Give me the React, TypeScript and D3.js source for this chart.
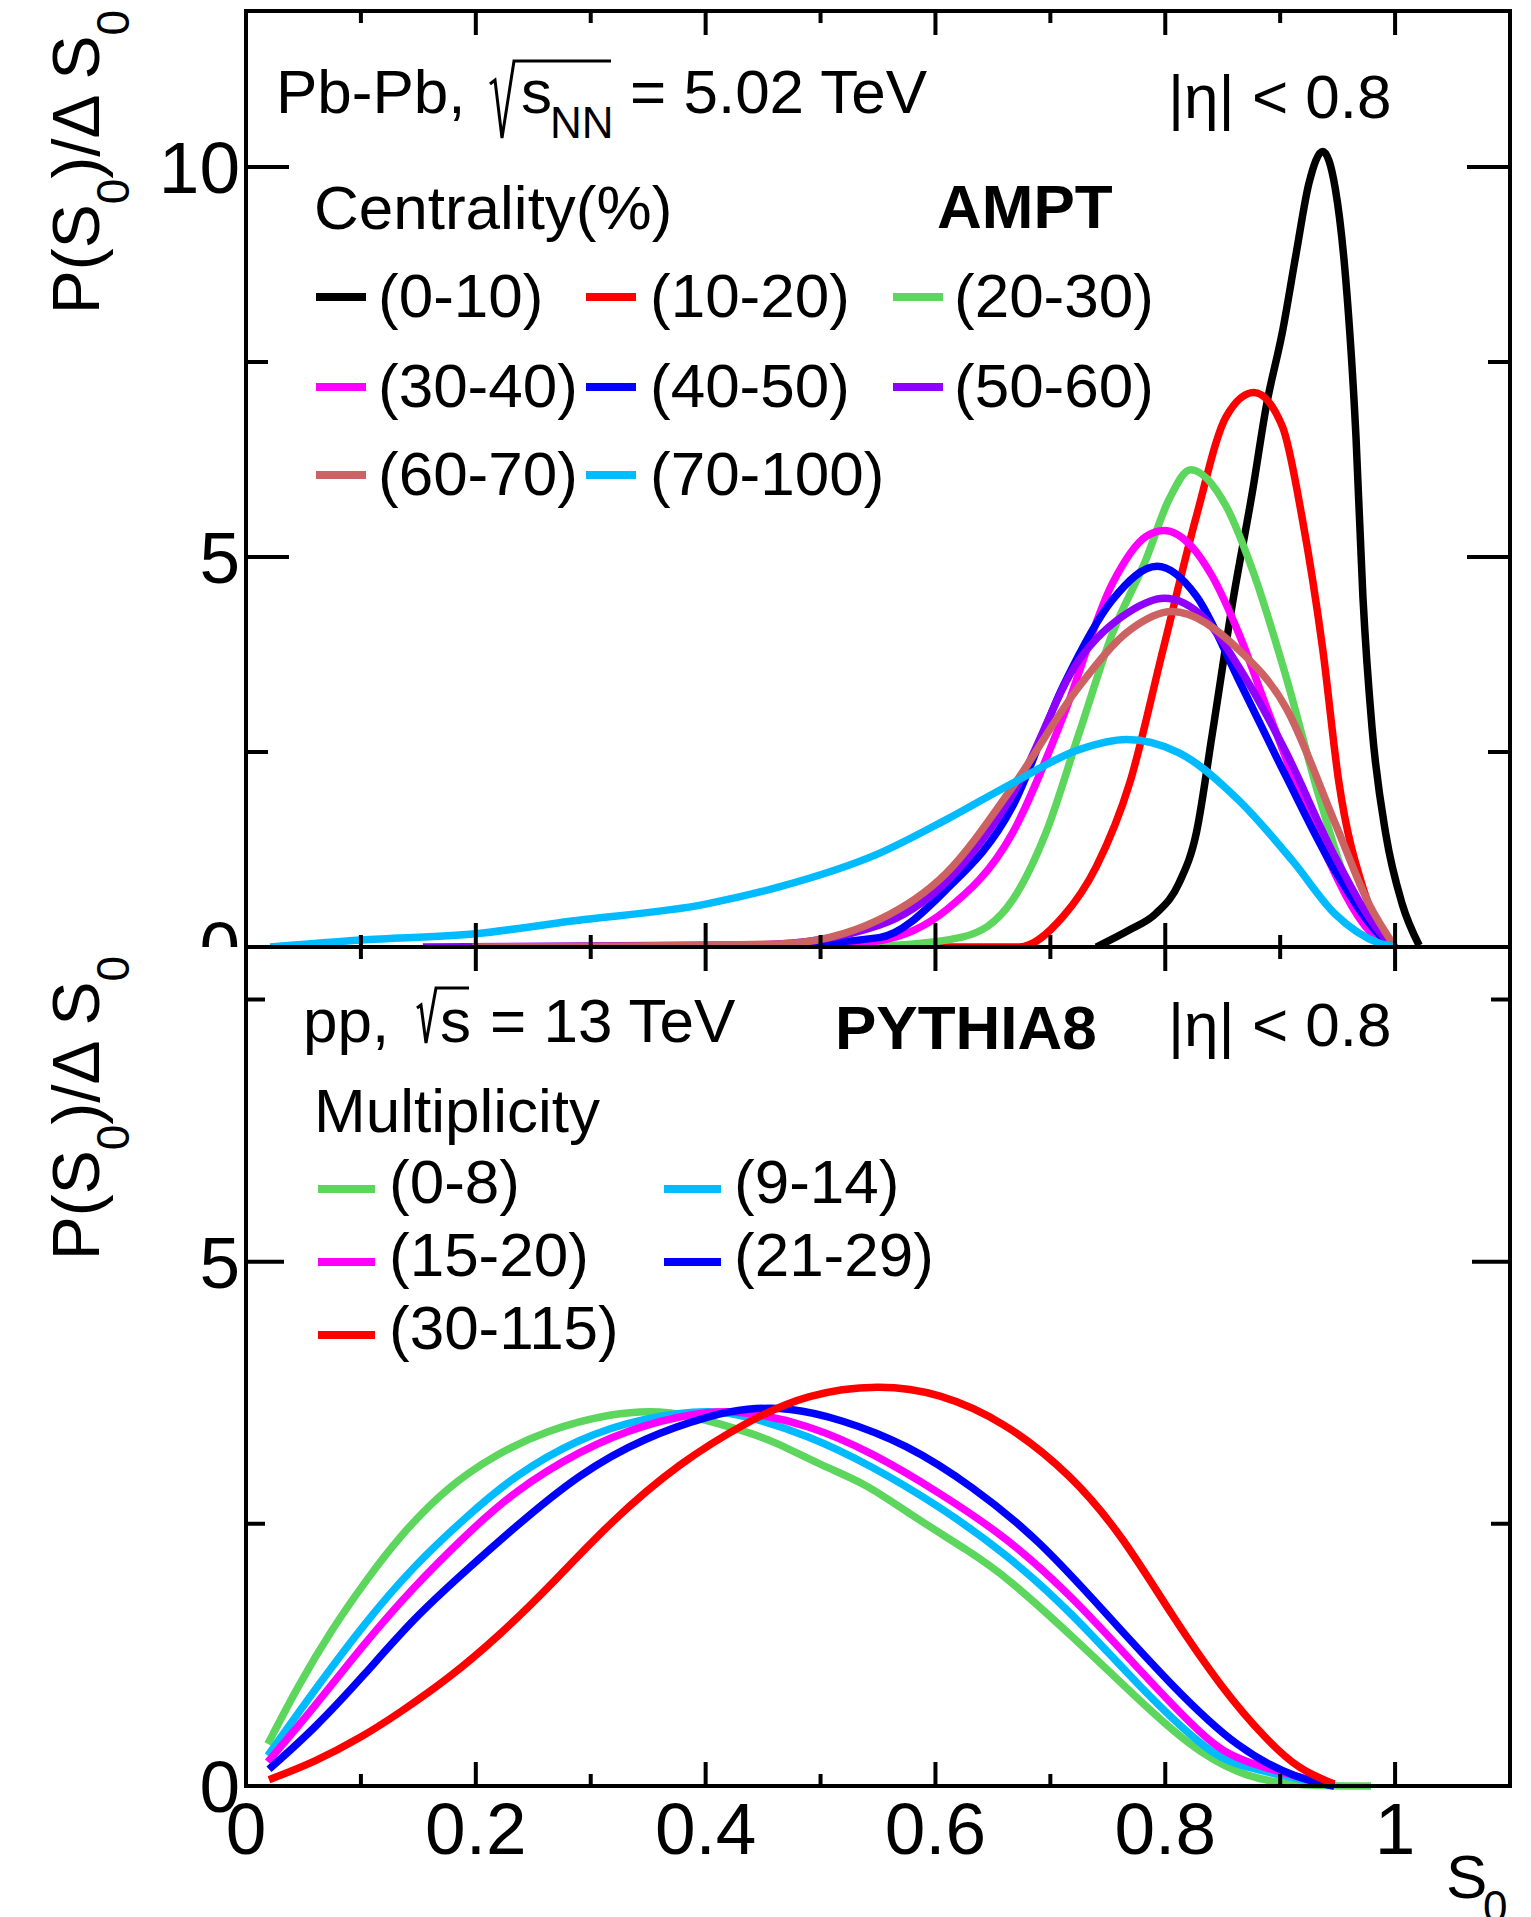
import React from "react";
import * as d3 from "d3";

type Pt = [number, number];

// ---------- DATA ----------
// Top panel: AMPT Pb-Pb centrality classes, [S0, P(S0)/ΔS0]
const amptC0_10: Pt[] = [[0.74,0],[0.769,0.22],[0.792,0.43],[0.812,0.82],[0.827,1.46],[0.841,2.74],[0.859,4.45],[0.876,5.85],[0.888,6.94],[0.902,7.89],[0.914,8.9],[0.925,9.79],[0.937,10.2],[0.948,9.72],[0.957,8.57],[0.966,6.53],[0.972,4.49],[0.98,2.8],[0.992,1.44],[1.006,0.56],[1.021,0.02]];
const amptC10_20: Pt[] = [[0.6,0],[0.673,0],[0.711,0.39],[0.74,1.03],[0.769,2.1],[0.798,3.81],[0.827,5.52],[0.853,6.8],[0.877,7.11],[0.902,6.67],[0.919,5.51],[0.937,3.82],[0.951,2.12],[0.972,0.76],[0.992,0.12],[1.0,0]];
const amptC20_30: Pt[] = [[0.5,0],[0.56,0.02],[0.624,0.13],[0.667,0.6],[0.696,1.46],[0.725,2.74],[0.754,4.02],[0.783,4.96],[0.803,5.73],[0.822,6.12],[0.853,5.65],[0.876,4.83],[0.905,3.47],[0.934,1.92],[0.963,0.63],[0.992,0.08],[1.0,0]];
const amptC30_40: Pt[] = [[0.4,0],[0.5,0.02],[0.551,0.08],[0.609,0.47],[0.667,1.46],[0.711,2.95],[0.754,4.66],[0.783,5.26],[0.799,5.34],[0.822,5.15],[0.841,4.75],[0.864,4.02],[0.89,3.0],[0.934,1.37],[0.978,0.2],[1.0,0]];
const amptC40_50: Pt[] = [[0.3,0],[0.45,0.02],[0.551,0.12],[0.609,0.73],[0.667,1.8],[0.711,3.34],[0.754,4.45],[0.793,4.88],[0.827,4.5],[0.864,3.42],[0.905,2.19],[0.948,0.97],[0.992,0.08],[1.0,0]];
const amptC50_60: Pt[] = [[0.154,0],[0.45,0.03],[0.551,0.28],[0.609,0.83],[0.667,1.95],[0.725,3.68],[0.769,4.3],[0.799,4.47],[0.835,4.2],[0.864,3.59],[0.905,2.5],[0.948,1.15],[0.992,0.1],[1.0,0]];
const amptC60_70: Pt[] = [[0.197,0],[0.464,0.04],[0.551,0.35],[0.609,0.94],[0.667,2.05],[0.725,3.34],[0.769,4.06],[0.806,4.3],[0.864,3.81],[0.905,3.07],[0.948,1.58],[0.977,0.56],[1.0,0]];
const amptC70_100: Pt[] = [[0.021,0],[0.1,0.09],[0.2,0.17],[0.282,0.33],[0.4,0.55],[0.464,0.77],[0.551,1.2],[0.609,1.63],[0.667,2.1],[0.725,2.53],[0.766,2.66],[0.812,2.49],[0.864,1.88],[0.911,1.1],[0.948,0.42],[0.986,0.05],[1.0,0]];

// Bottom panel: PYTHIA8 pp multiplicity classes
const pyM0_8: Pt[] = [[0.019,0.4],[0.045,0.95],[0.075,1.5],[0.105,1.97],[0.135,2.4],[0.175,2.85],[0.217,3.16],[0.261,3.39],[0.319,3.56],[0.362,3.58],[0.391,3.52],[0.435,3.38],[0.459,3.29],[0.502,3.05],[0.54,2.88],[0.575,2.61],[0.632,2.22],[0.661,2.0],[0.719,1.43],[0.777,0.82],[0.821,0.38],[0.864,0.11],[0.9,0.02],[0.947,0],[0.979,0]];
const pyM9_14: Pt[] = [[0.019,0.29],[0.06,0.92],[0.103,1.55],[0.146,2.1],[0.19,2.55],[0.232,2.95],[0.29,3.32],[0.348,3.52],[0.406,3.59],[0.435,3.53],[0.488,3.35],[0.545,3.05],[0.603,2.67],[0.661,2.22],[0.719,1.65],[0.777,0.95],[0.835,0.34],[0.864,0.18],[0.947,0]];
const pyM15_20: Pt[] = [[0.019,0.23],[0.06,0.76],[0.103,1.36],[0.146,1.9],[0.19,2.38],[0.232,2.8],[0.29,3.2],[0.348,3.46],[0.406,3.58],[0.435,3.57],[0.488,3.45],[0.545,3.18],[0.603,2.8],[0.661,2.38],[0.719,1.81],[0.777,1.11],[0.835,0.44],[0.864,0.23],[0.947,0]];
const pyM21_29: Pt[] = [[0.02,0.16],[0.06,0.55],[0.103,1.06],[0.146,1.6],[0.19,2.04],[0.232,2.45],[0.29,2.98],[0.348,3.33],[0.406,3.54],[0.435,3.6],[0.473,3.61],[0.517,3.5],[0.575,3.26],[0.632,2.86],[0.69,2.35],[0.748,1.65],[0.806,0.95],[0.864,0.34],[0.917,0.06],[0.947,0]];
const pyM30_115: Pt[] = [[0.02,0.06],[0.06,0.23],[0.1,0.46],[0.134,0.7],[0.177,1.03],[0.221,1.44],[0.264,1.9],[0.319,2.54],[0.377,3.08],[0.435,3.47],[0.488,3.74],[0.551,3.83],[0.603,3.75],[0.661,3.47],[0.719,2.96],[0.763,2.38],[0.806,1.62],[0.85,0.92],[0.888,0.44],[0.917,0.15],[0.947,0.02]];

const amptLabels = ["(0-10)", "(10-20)", "(20-30)", "(30-40)", "(40-50)", "(50-60)", "(60-70)", "(70-100)"];
const amptColors = ["#000000", "#ff0000", "#5cd65c", "#ff00ff", "#0000ff", "#9000ff", "#cc6262", "#00bbff"];
const amptSeries = [amptC0_10, amptC10_20, amptC20_30, amptC30_40, amptC40_50, amptC50_60, amptC60_70, amptC70_100];

const pyLabels = ["(0-8)", "(9-14)", "(15-20)", "(21-29)", "(30-115)"];
const pyColors = ["#5cd65c", "#00bbff", "#ff00ff", "#0000ff", "#ff0000"];
const pySeries = [pyM0_8, pyM9_14, pyM15_20, pyM21_29, pyM30_115];

const xMajor = [0, 0.2, 0.4, 0.6, 0.8, 1];
const xMajorLabels = ["0", "0.2", "0.4", "0.6", "0.8", "1"];
const xMinor = [0.1, 0.3, 0.5, 0.7, 0.9];
const topYMajor = [0, 5, 10];
const topYMajorLabels = ["0", "5", "10"];
const botYMajor = [0, 5];
const botYMajorLabels = ["0", "5"];
const yMinor = [2.5, 7.5];

// ---------- LAYOUT ----------
const W = 1531, H = 1917;
const FL = 246, FR = 1510;
const x = d3.scaleLinear().domain([0, 1.1]).range([FL, FR]);
const yT = d3.scaleLinear().domain([0, 12]).range([947, 11]);
const yB = d3.scaleLinear().domain([0, 8]).range([1786, 947]);

const FONT = "'Liberation Sans', Arial, Helvetica, sans-serif";
const TXT = 62;
const TICKF = 73;

function linePath(data: Pt[], y: d3.ScaleLinear<number, number>, smooth: boolean) {
  const curve = smooth ? d3.curveBasis : d3.curveMonotoneX;
  return d3.line<Pt>().x(d => x(d[0])).y(d => y(d[1])).curve(curve)(data) || "";
}

function Frame({ y, yMajLen, yMinLen, yMaj }: { y: d3.ScaleLinear<number, number>; yMajLen: number; yMinLen: number; yMaj: number[] }) {
  const [y0, y1] = y.range();
  const top = y1, bot = y0;
  const segs: string[] = [];
  xMajor.forEach(v => { segs.push(`M${x(v)},${bot}V${bot - 24}`); segs.push(`M${x(v)},${top}V${top + 24}`); });
  xMinor.forEach(v => { segs.push(`M${x(v)},${bot}V${bot - 12}`); segs.push(`M${x(v)},${top}V${top + 12}`); });
  yMaj.forEach(v => { segs.push(`M${FL},${y(v)}H${FL + yMajLen}`); segs.push(`M${FR},${y(v)}H${FR - yMajLen}`); });
  yMinor.forEach(v => { segs.push(`M${FL},${y(v)}H${FL + yMinLen}`); segs.push(`M${FR},${y(v)}H${FR - yMinLen}`); });
  return (
    <g>
      <path d={segs.join("")} stroke="#000" strokeWidth={4} fill="none" />
      <rect x={FL} y={top} width={FR - FL} height={bot - top} fill="none" stroke="#000" strokeWidth={4} />
    </g>
  );
}

function YTitle({ yEnd }: { yEnd: number }) {
  return (
    <text transform={`translate(99,${yEnd}) rotate(-90)`} textAnchor="end" fontSize={66} fontFamily={FONT}>
      <tspan>P(S</tspan>
      <tspan fontSize={46} dy={30}>0</tspan>
      <tspan dy={-30}>)/Δ S</tspan>
      <tspan fontSize={46} dy={30}>0</tspan>
    </text>
  );
}

export default function App() {
  return (
    <svg width={W} height={H} style={{ position: "absolute", left: 0, top: 0, background: "#fff" }} fontFamily={FONT}>
      <rect x={0} y={0} width={W} height={H} fill="#fff" />
      {/* ================= TOP PAD ================= */}
      <g>
        {topYMajor.map((v, i) => (
          <text key={"tyl" + i} x={240} y={yT(v) + 26} textAnchor="end" fontSize={TICKF}>{topYMajorLabels[i]}</text>
        ))}
        <YTitle yEnd={10} />
        {amptSeries.map((s, i) => (
          <path key={"a" + i} d={linePath(s, yT, false)} fill="none" stroke={amptColors[i]} strokeWidth={7.5} strokeLinejoin="round" />
        ))}
        <Frame y={yT} yMajLen={43} yMinLen={22} yMaj={topYMajor} />
        {/* header */}
        <text x={276} y={113} fontSize={TXT}>Pb-Pb,</text>
        <path d="M490,84 L495,80 L502,138 L514,61 L611,61" fill="none" stroke="#000" strokeWidth={3} />
        <text x={521} y={113} fontSize={TXT}>s</text>
        <text x={550} y={138} fontSize={44}>NN</text>
        <text x={630} y={113} fontSize={TXT}>= 5.02 TeV</text>
        <text x={1168} y={118} fontSize={TXT}>|η| &lt; 0.8</text>
        <text x={314} y={229} fontSize={TXT}>Centrality(%)</text>
        <text x={937} y={228} fontSize={TXT} fontWeight="bold">AMPT</text>
        {amptLabels.map((lab, i) => {
          const col = i % 3, row = Math.floor(i / 3);
          const mx = [316, 586, 893][col];
          const tx = [378, 650, 954][col];
          const my = [297, 387, 475][row];
          return (
            <g key={"al" + i}>
              <line x1={mx} x2={mx + 50} y1={my} y2={my} stroke={amptColors[i]} strokeWidth={8} />
              <text x={tx} y={my + 20} fontSize={TXT}>{lab}</text>
            </g>
          );
        })}
      </g>

      {/* ================= BOTTOM PAD ================= */}
      <rect x={0} y={947} width={W} height={H - 947} fill="#fff" />
      <g>
        {botYMajor.map((v, i) => (
          <text key={"byl" + i} x={240} y={yB(v) + 26} textAnchor="end" fontSize={TICKF}>{botYMajorLabels[i]}</text>
        ))}
        {xMajor.map((v, i) => (
          <text key={"xl" + i} x={x(v)} y={1854} textAnchor="middle" fontSize={TICKF}>{xMajorLabels[i]}</text>
        ))}
        <YTitle yEnd={956} />
        <text x={1446} y={1898} fontSize={TXT}>S</text>
        <text x={1483} y={1922} fontSize={44}>0</text>
        {pySeries.map((s, i) => (
          <path key={"p" + i} d={linePath(s, yB, true)} fill="none" stroke={pyColors[i]} strokeWidth={7.5} strokeLinejoin="round" />
        ))}
        <Frame y={yB} yMajLen={38} yMinLen={19} yMaj={botYMajor} />
        <text x={303} y={1042} fontSize={TXT}>pp,</text>
        <path d="M417,1008 L421,1005 L426,1043 L436,988 L469,988" fill="none" stroke="#000" strokeWidth={3} />
        <text x={440} y={1042} fontSize={TXT}>s</text>
        <text x={490} y={1042} fontSize={TXT}>= 13 TeV</text>
        <text x={835} y={1049} fontSize={TXT} fontWeight="bold">PYTHIA8</text>
        <text x={1168} y={1046} fontSize={TXT}>|η| &lt; 0.8</text>
        <text x={314} y={1132} fontSize={TXT}>Multiplicity</text>
        {pyLabels.map((lab, i) => {
          const col = i % 2, row = Math.floor(i / 2);
          const mx = [318, 664][col];
          const tx = [389, 734][col];
          const my = [1189, 1262, 1335][row];
          return (
            <g key={"pl" + i}>
              <line x1={mx} x2={mx + 57} y1={my} y2={my} stroke={pyColors[i]} strokeWidth={8} />
              <text x={tx} y={my + 14} fontSize={TXT}>{lab}</text>
            </g>
          );
        })}
      </g>
    </svg>
  );
}
